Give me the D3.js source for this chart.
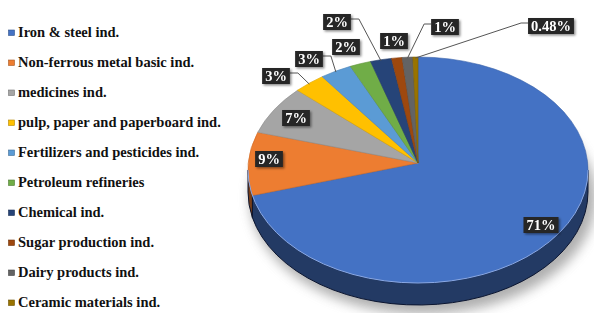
<!DOCTYPE html>
<html>
<head>
<meta charset="utf-8">
<script src="https://cdn.jsdelivr.net/npm/d3@7"></script>
<style>
  body { margin: 0; background: #fff; }
  svg { display: block; }
  .legend text { font-family: "Liberation Serif", "Times New Roman", serif; font-weight: bold; font-size: 14.5px; fill: #111; }
  .lbl text { font-family: "Liberation Serif", "Times New Roman", serif; font-weight: bold; font-size: 14.5px; fill: #fff; }
</style>
</head>
<body>
<div id="chart"></div>
<script>
// data
var categories = ["Iron & steel ind.", "Non-ferrous metal basic ind.", "medicines ind.",
    "pulp, paper and paperboard ind.", "Fertilizers and pesticides ind.", "Petroleum refineries",
    "Chemical ind.", "Sugar production ind.", "Dairy products ind.", "Ceramic materials ind."];
var shares = [71, 9, 7, 3, 3, 2, 2, 1, 1, 0.48];
var labels = ["71%", "9%", "7%", "3%", "3%", "2%", "2%", "1%", "1%", "0.48%"];
var colors = ["#4472C4", "#ED7D31", "#A5A5A5", "#FFC000", "#5B9BD5", "#70AD47", "#264478", "#9E480E", "#636363", "#997300"];

// where each label box sits, and which side the leader leaves from (layout only)
var labelPos = [
    { x: 541, y: 225, lead: null },
    { x: 269, y: 159, lead: null },
    { x: 296, y: 118, lead: null },
    { x: 276, y: 76, lead: "right" },
    { x: 309, y: 59, lead: "right" },
    { x: 346, y: 47, lead: null },
    { x: 337, y: 22, lead: "right" },
    { x: 394, y: 41, lead: null },
    { x: 445, y: 27, lead: "left" },
    { x: 551, y: 26, lead: "left" }
];

var width = 594, height = 313;
var cx = 418, cy = 170, rx = 170, ry = 113, depth = 22;
var apex = [418, 163];

var svg = d3.select("#chart").append("svg")
    .attr("width", width)
    .attr("height", height);

var defs = svg.append("defs");
defs.append("filter").attr("id", "blur")
    .attr("x", "-20%").attr("y", "-20%").attr("width", "140%").attr("height", "140%")
    .append("feGaussianBlur").attr("stdDeviation", 6);
var ds = defs.append("filter").attr("id", "dshadow")
    .attr("x", "-30%").attr("y", "-30%").attr("width", "160%").attr("height", "160%");
ds.append("feDropShadow").attr("dx", 1.5).attr("dy", 1.5).attr("stdDeviation", 1.2)
    .attr("flood-color", "#000").attr("flood-opacity", 0.45);

var pie = d3.pie().sort(null).value(d => d);
var arcs = pie(shares);

function pt(a, dy) {
    return [cx + rx * Math.sin(a), cy - ry * Math.cos(a) + (dy || 0)];
}

// soft shadow under the disc
svg.append("ellipse")
    .attr("cx", cx + 5).attr("cy", cy + depth + 6)
    .attr("rx", rx + 3).attr("ry", ry + 3)
    .attr("fill", "#7a7a7a").attr("opacity", 0.6)
    .attr("filter", "url(#blur)");

// sides (front half only)
var sideG = svg.append("g");
arcs.forEach(function(d, i) {
    var a0 = Math.max(d.startAngle, Math.PI / 2),
        a1 = Math.min(d.endAngle, 3 * Math.PI / 2);
    if (a1 <= a0) return;
    var p0 = pt(a0), p1 = pt(a1), q1 = pt(a1, depth), q0 = pt(a0, depth);
    var large = (a1 - a0) > Math.PI ? 1 : 0;
    var path = "M" + p0 + "A" + rx + "," + ry + " 0 " + large + " 1 " + p1 +
        "L" + q1 + "A" + rx + "," + ry + " 0 " + large + " 0 " + q0 + "Z";
    sideG.append("path")
        .attr("d", path)
        .attr("fill", d3.color(colors[i]).darker(1.9))
        .attr("stroke", "#0b1530").attr("stroke-width", 1);
});

// top faces
var topG = svg.append("g");
arcs.forEach(function(d, i) {
    var p0 = pt(d.startAngle), p1 = pt(d.endAngle);
    var large = (d.endAngle - d.startAngle) > Math.PI ? 1 : 0;
    var path = "M" + apex + "L" + p0 + "A" + rx + "," + ry + " 0 " + large + " 1 " + p1 + "Z";
    topG.append("path")
        .attr("d", path)
        .attr("fill", colors[i])
        .attr("stroke", d3.color(colors[i]).darker(0.4))
        .attr("stroke-width", 0.6);
});
// light rim between top and side
svg.append("path")
    .attr("d", "M" + pt(Math.PI / 2) + "A" + rx + "," + ry + " 0 0 1 " + pt(3 * Math.PI / 2))
    .attr("fill", "none").attr("stroke", "#8aa8e4").attr("stroke-width", 1);

// leader lines
var leadG = svg.append("g");
var lblG = svg.append("g").attr("class", "lbl");
arcs.forEach(function(d, i) {
    var lp = labelPos[i];
    var t = lblG.append("g").attr("filter", "url(#dshadow)");
    var txt = t.append("text")
        .attr("x", lp.x).attr("y", lp.y + 5)
        .attr("text-anchor", "middle")
        .text(labels[i]);
    var bb = txt.node().getBBox();
    t.insert("rect", "text")
        .attr("x", bb.x - 3).attr("y", lp.y - 8)
        .attr("width", bb.width + 6).attr("height", 16)
        .attr("fill", "#262626");
    if (lp.lead) {
        var mid = (d.startAngle + d.endAngle) / 2;
        var e = pt(mid);
        var sx = lp.lead === "right" ? bb.x + bb.width + 3 : bb.x - 3;
        var kx = lp.lead === "right" ? sx + 8 : sx - 7;
        var sy = lp.y - 3;
        leadG.append("polyline")
            .attr("points", [[sx, sy], [kx, sy], [e[0], e[1] + 1]].join(" "))
            .attr("fill", "none").attr("stroke", "#555").attr("stroke-width", 1);
    }
});

// legend
var legend = svg.append("g").attr("class", "legend");
var row = d3.scaleLinear().domain([0, categories.length - 1]).range([37, 307]);
categories.forEach(function(c, i) {
    var g = legend.append("g").attr("transform", "translate(0," + row(i) + ")");
    g.append("rect")
        .attr("x", 8.5).attr("y", -7)
        .attr("width", 6).attr("height", 5.5)
        .attr("fill", colors[i])
        .attr("stroke", d3.color(colors[i]).darker(1)).attr("stroke-width", 0.6);
    g.append("text").attr("x", 18).attr("y", 0).text(c);
});
</script>
</body>
</html>
